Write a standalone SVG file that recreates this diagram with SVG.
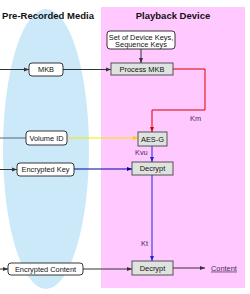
<svg xmlns="http://www.w3.org/2000/svg" width="250" height="294" viewBox="0 0 250 294">
<style>
.t{font-family:"Liberation Sans",Arial,sans-serif;font-size:7.4px;fill:#111;text-anchor:middle}
.h{font-family:"Liberation Sans",Arial,sans-serif;font-size:9.5px;font-weight:bold;fill:#111;text-anchor:middle}
.lbl{font-family:"Liberation Sans",Arial,sans-serif;font-size:7.4px;fill:#4a2a5a}
.rb{fill:#fff;stroke:#222;stroke-width:0.9}
.pb{fill:#dfe3df;stroke:#444;stroke-width:0.9}
.c{fill:none;stroke-width:1}
</style>
<defs>
<marker id="aK" markerUnits="userSpaceOnUse" markerWidth="5" markerHeight="5" refX="5" refY="2.5" orient="auto"><path d="M0,0.5 L5,2.5 L0,4.5 z" fill="#333"/></marker>
<marker id="aR" markerUnits="userSpaceOnUse" markerWidth="5" markerHeight="5" refX="5" refY="2.5" orient="auto"><path d="M0,0.5 L5,2.5 L0,4.5 z" fill="#d00"/></marker>
<marker id="aB" markerUnits="userSpaceOnUse" markerWidth="5" markerHeight="5" refX="5" refY="2.5" orient="auto"><path d="M0,0.5 L5,2.5 L0,4.5 z" fill="#2222dd"/></marker>
<marker id="aN" markerUnits="userSpaceOnUse" markerWidth="5" markerHeight="5" refX="5" refY="2.5" orient="auto"><path d="M0,0.5 L5,2.5 L0,4.5 z" fill="#000099"/></marker>
<marker id="aY" markerUnits="userSpaceOnUse" markerWidth="5" markerHeight="5" refX="5" refY="2.5" orient="auto"><path d="M0,0.5 L5,2.5 L0,4.5 z" fill="#e8d800"/></marker>
</defs>
<rect width="250" height="294" fill="#fff"/>
<ellipse cx="46" cy="149" rx="43" ry="140" fill="#cce9f9"/>
<rect x="101" y="7" width="144" height="281" fill="#ffc8ff"/>
<text class="h" x="48" y="19">Pre-Recorded Media</text>
<text class="h" x="173" y="19">Playback Device</text>
<g id="connectors">
<path class="c" stroke="#333" d="M0,69.5 H29" marker-end="url(#aK)"/>
<path class="c" stroke="#333" d="M63,69.5 H111" marker-end="url(#aK)"/>
<path class="c" stroke="#333" d="M141,49 V63" marker-end="url(#aK)"/>
<path class="c" stroke="#d00" stroke-width="1.5" d="M173,69 H205 V110 H152 V132" marker-end="url(#aR)"/>
<path class="c" stroke="#556677" d="M0,138 H26"/>
<path class="c" stroke="#f0ea00" stroke-width="1.5" d="M67,138 H138" marker-end="url(#aY)"/>
<path class="c" stroke="#333" d="M0,169.5 H17" marker-end="url(#aK)"/>
<path class="c" stroke="#000099" stroke-width="1.5" d="M74,169 H132" marker-end="url(#aN)"/>
<path class="c" stroke="#2222dd" stroke-width="1.2" d="M152,146 V162" marker-end="url(#aB)"/>
<path class="c" stroke="#2222dd" stroke-width="1.5" d="M152,175 V261" marker-end="url(#aB)"/>
<path class="c" stroke="#333" d="M0,269 H8" marker-end="url(#aK)"/>
<path class="c" stroke="#333" d="M83,269 H132" marker-end="url(#aK)"/>
<path class="c" stroke="#333" d="M173,268 H205" marker-end="url(#aK)"/>
</g>
<g id="keys"><rect class="rb" x="107" y="31" width="68" height="18" rx="3"/><text class="t" x="141" y="39.5">Set of Device Keys,</text><text class="t" x="141" y="47">Sequence Keys</text></g>
<g id="process-mkb"><rect class="pb" x="111" y="63" width="62" height="12"/><text class="t" x="142" y="71.6">Process MKB</text></g>
<g id="mkb"><rect class="rb" x="29" y="63" width="34" height="13" rx="3"/><text class="t" x="46" y="72">MKB</text></g>
<g id="volume-id"><rect class="rb" x="26" y="131" width="41" height="14" rx="3"/><text class="t" x="46.5" y="140.6">Volume ID</text></g>
<g id="aes-g"><rect class="pb" x="138" y="132" width="29" height="14"/><text class="t" x="152.5" y="141.6">AES-G</text></g>
<g id="encrypted-key"><rect class="rb" x="17" y="163" width="57" height="13" rx="3"/><text class="t" x="45.5" y="172">Encrypted Key</text></g>
<g id="decrypt1"><rect class="pb" x="132" y="162" width="41" height="13"/><text class="t" x="152.5" y="171.2">Decrypt</text></g>
<g id="encrypted-content"><rect class="rb" x="8" y="263" width="75" height="12" rx="3"/><text class="t" x="45.5" y="271.6">Encrypted Content</text></g>
<g id="decrypt2"><rect class="pb" x="132" y="261" width="41" height="14"/><text class="t" x="152.5" y="270.6">Decrypt</text></g>
<g id="content"><text class="lbl" x="211" y="270.6" text-decoration="underline">Content</text></g>
<text class="lbl" x="190" y="120.5">Km</text>
<text class="lbl" x="135" y="154.5">Kvu</text>
<text class="lbl" x="141" y="245.5">Kt</text>
</svg>
